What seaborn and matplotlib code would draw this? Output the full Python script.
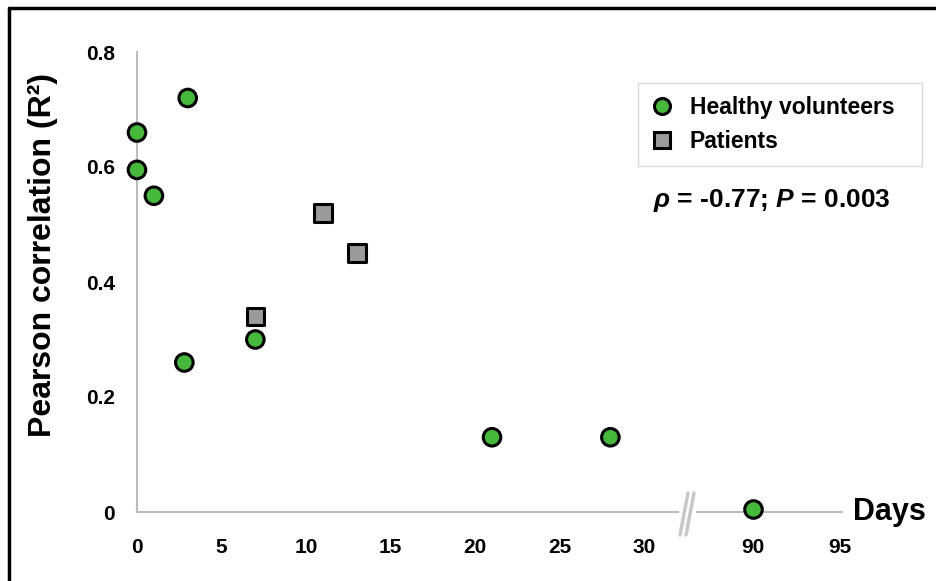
import numpy as np
import pandas as pd
import matplotlib
matplotlib.use("Agg")
import matplotlib.pyplot as plt
from matplotlib.lines import Line2D
import seaborn as sns

# values
healthy_days = [0, 0, 1, 3, 2.8, 7, 21, 28, 90]
healthy_r2 = [0.66, 0.595, 0.55, 0.72, 0.26, 0.30, 0.13, 0.13, 0.006]
patient_days = [7, 11, 13]
patient_r2 = [0.34, 0.52, 0.45]
y_ticks = [0, 0.2, 0.4, 0.6, 0.8]
y_tick_labels = ["0", "0.2", "0.4", "0.6", "0.8"]
left_ticks = [0, 5, 10, 15, 20, 25, 30]
right_ticks = [90, 95]
groups = ["Healthy volunteers", "Patients"]

df = pd.DataFrame({
    "day": healthy_days + patient_days,
    "r2": healthy_r2 + patient_r2,
    "group": [groups[0]] * len(healthy_days) + [groups[1]] * len(patient_days),
})

sns.set_style("white")
plt.rcParams["font.family"] = ["Liberation Sans", "DejaVu Sans"]
plt.rcParams["text.color"] = "black"
plt.rcParams["axes.labelcolor"] = "black"
plt.rcParams["mathtext.fontset"] = "custom"
plt.rcParams["mathtext.rm"] = "Liberation Sans:bold"
plt.rcParams["mathtext.it"] = "Liberation Sans:italic:bold"

W, H = 937, 581
fig = plt.figure(figsize=(W / 100, H / 100), dpi=100)

def fx(px):
    return px / W

def fy(py):
    return 1 - py / H

ax1 = fig.add_axes([fx(137), fy(512), fx(678) - fx(137), fy(52) - fy(512)])
ax2 = fig.add_axes([fx(697), fy(512), fx(842) - fx(697), fy(52) - fy(512)])

palette = {groups[0]: "#46b83c", groups[1]: "#9a9a9a"}
markers = {groups[0]: "o", groups[1]: "s"}
axis_grey = "#bdbdbd"
tick_font = ["Liberation Sans Narrow", "Liberation Sans", "DejaVu Sans"]

for ax, sub, lim, ticks in [
    (ax1, df[df.day <= 30], (0, 32.0), left_ticks),
    (ax2, df[df.day > 30], (86.78, 95.11), right_ticks),
]:
    sns.scatterplot(data=sub, x="day", y="r2", hue="group", style="group",
                    palette=palette, markers=markers, hue_order=groups,
                    style_order=groups, s=160, edgecolor="black",
                    linewidth=2.2, ax=ax, legend=False, clip_on=False, zorder=5)
    ax.set_xlim(*lim)
    ax.set_ylim(0, 0.8)
    ax.set_xticks(ticks)
    ax.set_xticklabels([str(t) for t in ticks], fontsize=15, fontweight="bold",
                       family=tick_font)
    ax.set_xlabel("")
    ax.set_ylabel("")
    for s in ["top", "right"]:
        ax.spines[s].set_visible(False)
    ax.spines["bottom"].set_color(axis_grey)
    ax.spines["bottom"].set_linewidth(1.5)
    ax.tick_params(axis="x", direction="out", length=5, width=1.2,
                   color=axis_grey, labelcolor="black", pad=14)
    ax.set_facecolor("none")

ax1.spines["left"].set_color(axis_grey)
ax1.spines["left"].set_linewidth(1.5)
ax1.set_yticks(y_ticks)
ax1.set_yticklabels(y_tick_labels, fontsize=15, fontweight="bold", family=tick_font)
ax1.tick_params(axis="y", direction="out", length=5, width=1.2,
                color=axis_grey, labelcolor="black", pad=11)
ax1.set_ylabel("Pearson correlation (R²)", fontsize=23, fontweight="bold")
ax1.yaxis.set_label_coords(-0.146, 0.559)

ax2.spines["left"].set_visible(False)
ax2.set_yticks([])

# axis break marks
for x0 in [680, 686]:
    fig.add_artist(Line2D([fx(x0), fx(x0 + 8)], [fy(535), fy(493)],
                          color="#c8c8c8", linewidth=2.5))

fig.text(fx(853), fy(520), "Days", fontsize=22, fontweight="bold",
         ha="left", va="baseline")

fig.text(fx(653), fy(207), r"$\rho$ = -0.77; $P$ = 0.003", fontsize=19,
         fontweight="bold", ha="left", va="baseline")

handles = [
    Line2D([], [], linestyle="none", marker=markers[g], markersize=11.5,
           markerfacecolor=palette[g], markeredgecolor="black",
           markeredgewidth=2.2, label=g)
    for g in groups
]
leg = fig.legend(handles=handles, loc="upper left",
                 bbox_to_anchor=(fx(638), fy(167), fx(922) - fx(638), fy(83) - fy(167)),
                 mode="expand", frameon=True, fancybox=False,
                 edgecolor="#d0d0d0", borderpad=0.55, handlelength=1.0,
                 handletextpad=0.7, labelspacing=0.5,
                 prop={"size": 16.5, "weight": "bold"}, borderaxespad=0)
leg.get_frame().set_linewidth(1)

# black frame around the panel (left and top edges)
fig.add_artist(Line2D([fx(9), fx(9)], [fy(7.5), 0], color="black", linewidth=2.5))
fig.add_artist(Line2D([fx(9), 1], [fy(7.5), fy(7.5)], color="black", linewidth=2.5))

fig.savefig("out.png", dpi=100)
